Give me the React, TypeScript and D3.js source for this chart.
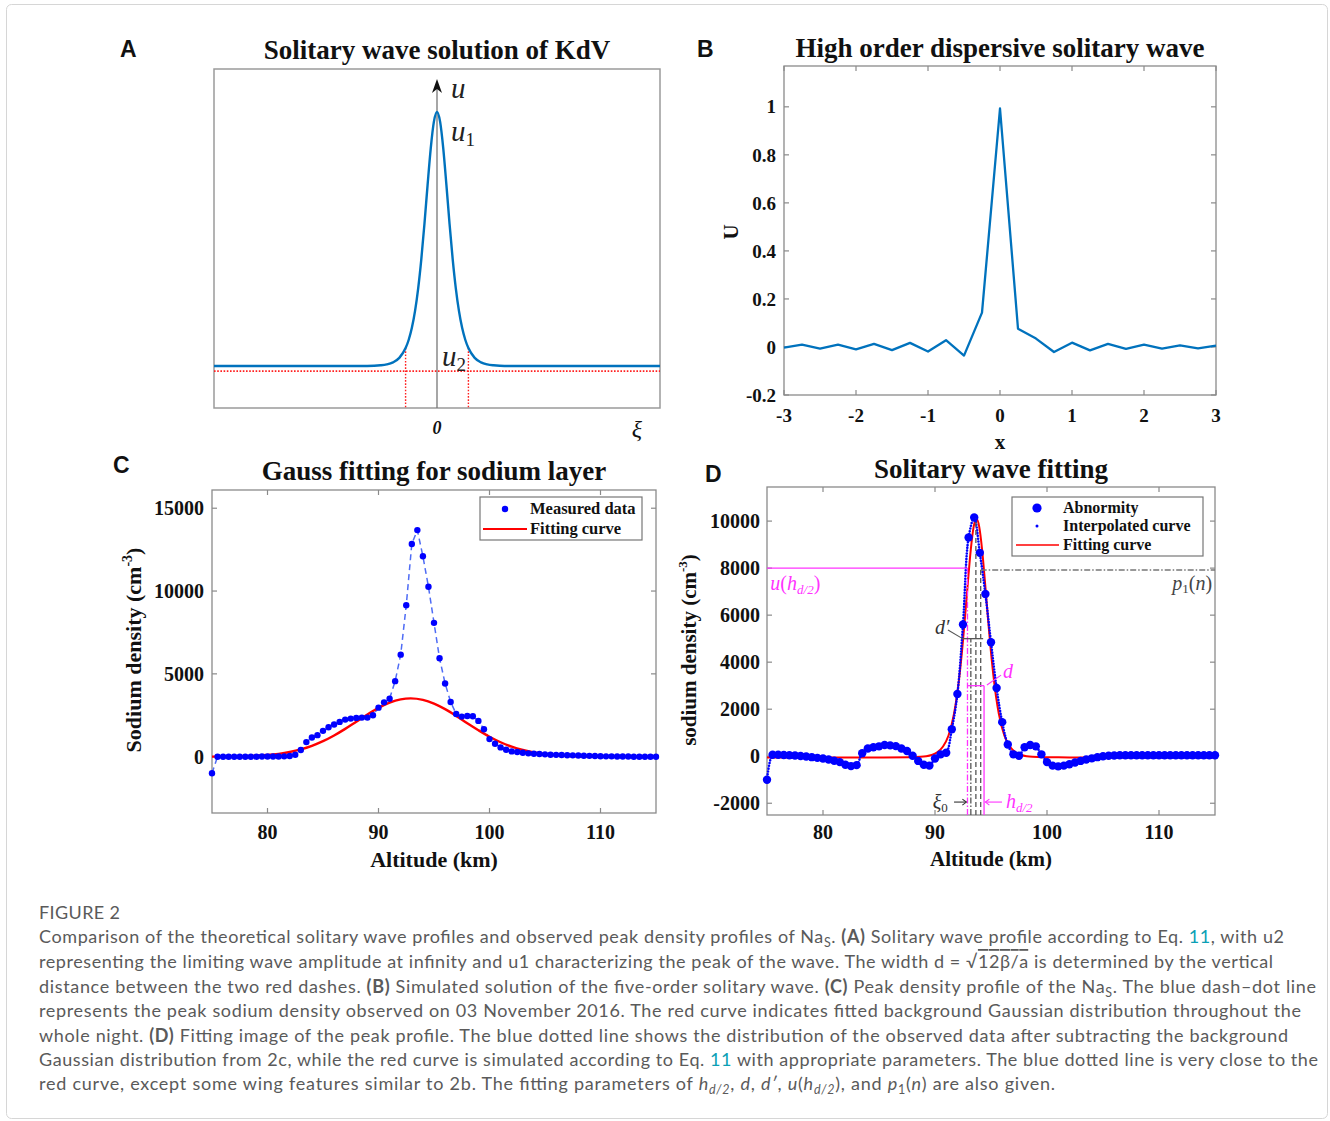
import React from "react";
import * as d3 from "d3";

// ---------- Panel A: KdV solitary wave ----------
const kdvXi = [-7.1, -3, -2.5, -2, -1.8, -1.6, -1.4, -1.2, -1, -0.9, -0.8, -0.7, -0.6, -0.5, -0.4, -0.3, -0.2, -0.1, 0, 0.1, 0.2, 0.3, 0.4, 0.5, 0.6, 0.7, 0.8, 0.9, 1, 1.2, 1.4, 1.6, 1.8, 2, 2.5, 3, 7.1];
const kdvU = [0, 0, 0.0002, 0.0013, 0.003, 0.0066, 0.0147, 0.0324, 0.0707, 0.1036, 0.1505, 0.216, 0.305, 0.42, 0.559, 0.712, 0.856, 0.961, 1, 0.961, 0.856, 0.712, 0.559, 0.42, 0.305, 0.216, 0.1505, 0.1036, 0.0707, 0.0324, 0.0147, 0.0066, 0.003, 0.0013, 0.0002, 0, 0];
const kdvU2Level = -0.02;
const kdvWidthMarks = [-1, 1];

// ---------- Panel B: high order dispersive solitary wave ----------
const bX = [-3, -2.75, -2.5, -2.25, -2, -1.75, -1.5, -1.25, -1, -0.75, -0.5, -0.25, 0, 0.25, 0.5, 0.75, 1, 1.25, 1.5, 1.75, 2, 2.25, 2.5, 2.75, 3];
const bU = [-0.003, 0.01, -0.007, 0.01, -0.01, 0.013, -0.013, 0.017, -0.019, 0.028, -0.036, 0.143, 0.993, 0.076, 0.035, -0.021, 0.018, -0.014, 0.013, -0.008, 0.01, -0.007, 0.007, -0.006, 0.006];
const bXTicks = [-3, -2, -1, 0, 1, 2, 3];
const bYTicks = [-0.2, 0, 0.2, 0.4, 0.6, 0.8, 1];
const bYTickLabels = ["-0.2", "0", "0.2", "0.4", "0.6", "0.8", "1"];

// ---------- Panels C & D: altitude grid (km) ----------
const altGrid = [
  75, 75.5, 76, 76.5, 77, 77.5, 78, 78.5, 79, 79.5, 80, 80.5, 81, 81.5, 82, 82.5, 83, 83.5, 84, 84.5,
  85, 85.5, 86, 86.5, 87, 87.5, 88, 88.5, 89, 89.5, 90, 90.5, 91, 91.5, 92, 92.5, 93, 93.5, 94, 94.5,
  95, 95.5, 96, 96.5, 97, 97.5, 98, 98.5, 99, 99.5, 100, 100.5, 101, 101.5, 102, 102.5, 103, 103.5, 104, 104.5,
  105, 105.5, 106, 106.5, 107, 107.5, 108, 108.5, 109, 109.5, 110, 110.5, 111, 111.5, 112, 112.5, 113, 113.5, 114, 114.5, 115,
];
// Panel C measured sodium density
const cMeasured = [
  -1000, 0, 0, 0, 0, 0, 0, 0, 0, 10, 10, 10, 10, 20, 40, 120, 400, 880, 1160, 1300,
  1560, 1780, 1940, 2100, 2240, 2300, 2340, 2360, 2360, 2500, 2960, 3280, 3500, 4560, 6160, 9140, 12840, 13680, 12100, 10260,
  8080, 5940, 4420, 3300, 2580, 2420, 2460, 2440, 2160, 1660, 1060, 780, 560, 420, 320, 280, 240, 200, 180, 160,
  140, 120, 110, 100, 90, 80, 70, 60, 50, 40, 30, 20, 20, 10, 10, 10, 0, 0, 0, 0, 0,
];
// Panel C Gaussian background fit
const cFitAlt = [75, 76, 77, 78, 79, 80, 81, 82, 83, 84, 85, 86, 87, 88, 89, 90, 91, 92, 92.9, 94, 95, 96, 97, 98, 99, 100, 101, 102, 103, 104, 105, 106, 107, 108, 110, 112, 115];
const cFitVal = [4, 8, 16, 31, 58, 102, 173, 282, 438, 654, 934, 1280, 1679, 2113, 2548, 2943, 3260, 3460, 3520, 3431, 3205, 2870, 2462, 2013, 1596, 1206, 872, 602, 403, 256, 157, 92, 51, 27, 7, 0, 0];
const cXTicks = [80, 90, 100, 110];
const cYTicks = [0, 5000, 10000, 15000];

// Panel D abnormity (measured minus background)
const dAbnorm = [
  -1000, 60, 60, 50, 40, 30, 10, -10, -40, -70, -100, -140, -190, -250, -360, -420, -380, 130, 330, 380,
  420, 480, 460, 430, 330, 220, 20, -200, -360, -400, -100, 80, 150, 1150, 2650, 5600, 9300, 10150, 8650, 6900,
  4850, 2900, 1450, 500, 80, 20, 380, 480, 420, 80, -250, -400, -430, -400, -340, -270, -200, -140, -90, -40,
  0, 20, 30, 40, 40, 40, 40, 40, 40, 40, 40, 40, 40, 40, 40, 40, 40, 40, 40, 40, 40,
];
// Panel D solitary-wave fit
const dFitAlt = [75, 85, 87.7, 88.7, 89.2, 89.7, 90.2, 90.7, 91.2, 91.7, 91.95, 92.2, 92.45, 92.7, 92.95, 93.2, 93.45, 93.7, 93.95, 94.2, 94.45, 94.7, 94.95, 95.2, 95.45, 95.7, 96.2, 96.7, 97.2, 97.7, 98.2, 98.7, 99.7, 102, 115];
const dFitVal = [-50, -50, -45, -27, -1, 53, 166, 402, 870, 1807, 2540, 3490, 4665, 6030, 7480, 8810, 9755, 10100, 9755, 8810, 7480, 6030, 4665, 3490, 2540, 1807, 870, 402, 166, 53, -1, -27, -45, -50, -50];
const dXTicks = [80, 90, 100, 110];
const dYTicks = [-2000, 0, 2000, 4000, 6000, 8000, 10000];

// Panel D annotation geometry (data units)
const dVLines = [
  { x: 92.9, top: 8000, color: "#ff33ff", dash: "6 2 1.5 2" },
  { x: 93.2, top: 5000, color: "#555555", dash: "6 2 1.5 2" },
  { x: 93.65, top: 10100, color: "#555555", dash: "5 3" },
  { x: 94.08, top: 7920, color: "#555555", dash: "5 3" },
  { x: 94.38, top: 3000, color: "#ff33ff", dash: "" },
];
const dHLines = [
  { x0: 75, x1: 92.9, y: 8000, color: "#ff33ff", dash: "" },
  { x0: 94.08, x1: 115, y: 7920, color: "#777777", dash: "6 2 1.5 2" },
  { x0: 92.35, x1: 94.3, y: 5000, color: "#555555", dash: "" },
  { x0: 92.9, x1: 94.38, y: 3000, color: "#ff33ff", dash: "" },
];

const serif = "'Times New Roman', 'Liberation Serif', Times, serif";
const sans = "Arial, 'Liberation Sans', Helvetica, sans-serif";
const capFont = "Lato, 'Open Sans', 'Noto Sans', sans-serif";
const AX = "#8a8a8a";
const MBLUE = "#0072BD";
const MAG = "#ff33ff";

type Sc = d3.ScaleLinear<number, number>;

function MatAxes(props: {
  xs: Sc; ys: Sc; xTicks: number[]; yTicks: number[]; yLabels?: string[];
  fs: number; xLabY: number; yLabX: number;
}) {
  const { xs, ys, xTicks, yTicks, yLabels, fs, xLabY, yLabX } = props;
  const [x0, x1] = xs.range();
  const [y0, y1] = ys.range(); // y0 bottom, y1 top
  const tl = 5;
  return (
    <g>
      <rect x={x0} y={y1} width={x1 - x0} height={y0 - y1} fill="none" stroke={AX} strokeWidth={1.3} />
      {xTicks.map((t) => (
        <g key={"x" + t}>
          <line x1={xs(t)} x2={xs(t)} y1={y0} y2={y0 - tl} stroke={AX} strokeWidth={1.2} />
          <line x1={xs(t)} x2={xs(t)} y1={y1} y2={y1 + tl} stroke={AX} strokeWidth={1.2} />
          <text x={xs(t)} y={xLabY} textAnchor="middle" dy="0.35em" fontFamily={serif} fontWeight="bold" fontSize={fs} fill="#111">
            {String(t)}
          </text>
        </g>
      ))}
      {yTicks.map((t, i) => (
        <g key={"y" + t}>
          <line x1={x0} x2={x0 + tl} y1={ys(t)} y2={ys(t)} stroke={AX} strokeWidth={1.2} />
          <line x1={x1} x2={x1 - tl} y1={ys(t)} y2={ys(t)} stroke={AX} strokeWidth={1.2} />
          <text x={yLabX} y={ys(t)} textAnchor="end" dy="0.35em" fontFamily={serif} fontWeight="bold" fontSize={fs} fill="#111">
            {yLabels ? yLabels[i] : String(t)}
          </text>
        </g>
      ))}
    </g>
  );
}

type Seg = { t: string; b?: boolean; i?: boolean; sub?: boolean; teal?: boolean; over?: boolean };

function CapLine({ y, segs, len }: { y: number; segs: Seg[]; len: number }) {
  let prevSub = false;
  return (
    <text x={39} y={y} fontFamily={capFont} fontSize={18} fill="#5a5a5a" textLength={len} lengthAdjust="spacing">
      {segs.map((s, k) => {
        let dy: number | undefined = undefined;
        if (s.sub && !prevSub) dy = 4;
        if (!s.sub && prevSub) dy = -4;
        prevSub = !!s.sub;
        return (
          <tspan
            key={k}
            dy={dy}
            fontWeight={s.b ? "bold" : undefined}
            fontStyle={s.i ? "italic" : undefined}
            fontSize={s.sub ? 12.5 : undefined}
            fill={s.teal ? "#0b9fb5" : undefined}
            style={s.over ? { textDecoration: "overline" } : undefined}
          >
            {s.t}
          </tspan>
        );
      })}
    </text>
  );
}

export default function App() {
  // Panel A
  const xA = d3.scaleLinear().domain([-7.1, 7.1]).range([214, 660]);
  const yA = d3.scaleLinear().domain([-0.165, 1.169]).range([408, 69]);
  const lineA = d3.line<number>().x((_, i) => xA(kdvXi[i])).y((d) => yA(d)).curve(d3.curveMonotoneX);
  const uAtMark = 0.0707;

  // Panel B
  const xB = d3.scaleLinear().domain([-3, 3]).range([784, 1216]);
  const yB = d3.scaleLinear().domain([-0.2, 1.17]).range([395, 66]);
  const lineB = d3.line<number>().x((_, i) => xB(bX[i])).y((d) => yB(d));

  // Panel C
  const xC = d3.scaleLinear().domain([75, 115]).range([212, 656]);
  const yC = d3.scaleLinear().domain([-3400, 16100]).range([813, 490]);
  const lineCm = d3.line<number>().x((_, i) => xC(altGrid[i])).y((d) => yC(d));
  const lineCf = d3.line<number>().x((_, i) => xC(cFitAlt[i])).y((d) => yC(d)).curve(d3.curveMonotoneX);

  // Panel D
  const xD = d3.scaleLinear().domain([75, 115]).range([767, 1215]);
  const yD = d3.scaleLinear().domain([-2500, 11450]).range([815, 487]);
  const lineDi = d3.line<number>().x((_, i) => xD(altGrid[i])).y((d) => yD(d)).curve(d3.curveCatmullRom.alpha(0.5));
  const lineDf = d3.line<number>().x((_, i) => xD(dFitAlt[i])).y((d) => yD(d)).curve(d3.curveMonotoneX);

  const titleFs = 27;
  const annFs = 20;

  return (
    <svg width={1330} height={1121} style={{ position: "absolute", left: 0, top: 0, background: "#fff" }}>
      <rect x={6.5} y={4.5} width={1321} height={1114} rx={5} fill="#fff" stroke="#d6d6d6" strokeWidth={1} />

      {/* ============ Panel A ============ */}
      <text x={120} y={57} fontFamily={sans} fontWeight="bold" fontSize={23} fill="#111">A</text>
      <text x={437} y={59} textAnchor="middle" fontFamily={serif} fontWeight="bold" fontSize={titleFs} fill="#111">Solitary wave solution of KdV</text>
      <rect x={214} y={69} width={446} height={339} fill="none" stroke="#9a9a9a" strokeWidth={1.5} />
      <line x1={xA(0)} x2={xA(0)} y1={408} y2={86} stroke="#777" strokeWidth={1.3} />
      <polygon points={`${xA(0)},79 ${xA(0) - 5},93 ${xA(0)},89 ${xA(0) + 5},93`} fill="#111" />
      <line x1={214} x2={660} y1={yA(kdvU2Level)} y2={yA(kdvU2Level)} stroke="#ff2020" strokeWidth={1.6} strokeDasharray="1.6 1.6" />
      {kdvWidthMarks.map((m) => (
        <line key={m} x1={xA(m)} x2={xA(m)} y1={yA(uAtMark)} y2={408} stroke="#ff2020" strokeWidth={1.4} strokeDasharray="1.6 1.6" />
      ))}
      <path d={lineA(kdvU) || ""} fill="none" stroke={MBLUE} strokeWidth={2.4} />
      <text x={451} y={98} fontFamily={serif} fontStyle="italic" fontSize={29} fill="#222">u</text>
      <text x={451} y={141} fontFamily={serif} fontStyle="italic" fontSize={29} fill="#222">
        u<tspan fontStyle="normal" fontSize={19} dy={5}>1</tspan>
      </text>
      <text x={442} y={366} fontFamily={serif} fontStyle="italic" fontSize={29} fill="#222">
        u<tspan fontStyle="normal" fontSize={19} dy={5}>2</tspan>
      </text>
      <text x={xA(0)} y={434} textAnchor="middle" fontFamily={serif} fontStyle="italic" fontWeight="bold" fontSize={18} fill="#111">0</text>
      <text x={637} y={437} textAnchor="middle" fontFamily={serif} fontStyle="italic" fontSize={24} fill="#111">ξ</text>

      {/* ============ Panel B ============ */}
      <text x={697} y={57} fontFamily={sans} fontWeight="bold" fontSize={23} fill="#111">B</text>
      <text x={1000} y={57} textAnchor="middle" fontFamily={serif} fontWeight="bold" fontSize={titleFs} fill="#111">High order dispersive solitary wave</text>
      <MatAxes xs={xB} ys={yB} xTicks={bXTicks} yTicks={bYTicks} yLabels={bYTickLabels} fs={19} xLabY={415} yLabX={776} />
      <path d={lineB(bU) || ""} fill="none" stroke={MBLUE} strokeWidth={2.3} strokeLinejoin="round" />
      <text transform="translate(738,232) rotate(-90)" textAnchor="middle" fontFamily={serif} fontWeight="bold" fontSize={21} fill="#111">U</text>
      <text x={1000} y={449} textAnchor="middle" fontFamily={serif} fontWeight="bold" fontSize={21} fill="#111">x</text>

      {/* ============ Panel C ============ */}
      <text x={113} y={473} fontFamily={sans} fontWeight="bold" fontSize={23} fill="#111">C</text>
      <text x={434} y={480} textAnchor="middle" fontFamily={serif} fontWeight="bold" fontSize={titleFs} fill="#111">Gauss fitting for sodium layer</text>
      <MatAxes xs={xC} ys={yC} xTicks={cXTicks} yTicks={cYTicks} fs={20} xLabY={832} yLabX={204} />
      <path d={lineCm(cMeasured) || ""} fill="none" stroke="#4f6cf5" strokeWidth={1.5} strokeDasharray="6 4" />
      <path d={lineCf(cFitVal) || ""} fill="none" stroke="#ff0000" strokeWidth={2.4} />
      {cMeasured.map((v, i) => (
        <circle key={i} cx={xC(altGrid[i])} cy={yC(v)} r={3.2} fill="#0000ff" />
      ))}
      <text transform="translate(141,650) rotate(-90)" textAnchor="middle" fontFamily={serif} fontWeight="bold" fontSize={22} fill="#111">
        Sodium density (cm<tspan fontSize={14} dy={-9}>-3</tspan><tspan dy={9}>)</tspan>
      </text>
      <text x={434} y={867} textAnchor="middle" fontFamily={serif} fontWeight="bold" fontSize={22} fill="#111">Altitude (km)</text>
      <g>
        <rect x={480} y={497} width={162} height={43} fill="#fff" stroke="#777" strokeWidth={1.2} />
        <circle cx={505} cy={509} r={3.2} fill="#0000ff" />
        <text x={530} y={514} fontFamily={serif} fontWeight="bold" fontSize={16.5} fill="#111">Measured data</text>
        <line x1={483} x2={527} y1={529} y2={529} stroke="#ff0000" strokeWidth={2} />
        <text x={530} y={534} fontFamily={serif} fontWeight="bold" fontSize={16.5} fill="#111">Fitting curve</text>
      </g>

      {/* ============ Panel D ============ */}
      <text x={705} y={482} fontFamily={sans} fontWeight="bold" fontSize={23} fill="#111">D</text>
      <text x={991} y={478} textAnchor="middle" fontFamily={serif} fontWeight="bold" fontSize={titleFs} fill="#111">Solitary wave fitting</text>
      <MatAxes xs={xD} ys={yD} xTicks={dXTicks} yTicks={dYTicks} fs={20} xLabY={832} yLabX={760} />
      <path d={lineDf(dFitVal) || ""} fill="none" stroke="#ff0000" strokeWidth={2} />
      {dAbnorm.map((v, i) => (
        <circle key={i} cx={xD(altGrid[i])} cy={yD(v)} r={4.2} fill="#0000ff" />
      ))}
      <path d={lineDi(dAbnorm) || ""} fill="none" stroke="#0000ff" strokeWidth={2.6} strokeDasharray="0 2.8" strokeLinecap="round" />
      {dVLines.map((l, k) => (
        <line key={"v" + k} x1={xD(l.x)} x2={xD(l.x)} y1={yD(-2500)} y2={yD(l.top)} stroke={l.color} strokeWidth={1.3} strokeDasharray={l.dash || undefined} />
      ))}
      {dHLines.map((l, k) => (
        <line key={"h" + k} x1={xD(l.x0)} x2={xD(l.x1)} y1={yD(l.y)} y2={yD(l.y)} stroke={l.color} strokeWidth={1.3} strokeDasharray={l.dash || undefined} />
      ))}
      {/* labels */}
      <text x={xD(75.3)} y={yD(7050)} fontFamily={serif} fontSize={annFs} fill={MAG}>
        <tspan fontStyle="italic">u</tspan>(<tspan fontStyle="italic">h</tspan>
        <tspan fontStyle="italic" fontSize={13} dy={4}>d/2</tspan>
        <tspan dy={-4}>)</tspan>
      </text>
      <text x={xD(114.75)} y={yD(7050)} textAnchor="end" fontFamily={serif} fontSize={annFs} fill="#444">
        <tspan fontStyle="italic">p</tspan>
        <tspan fontSize={13} dy={3}>1</tspan>
        <tspan dy={-3}>(</tspan><tspan fontStyle="italic">n</tspan>)
      </text>
      <text x={xD(90.0)} y={yD(5200)} fontFamily={serif} fontStyle="italic" fontSize={annFs} fill="#333">d′</text>
      <line x1={xD(91.16)} y1={yD(5370)} x2={xD(92.5)} y2={yD(4990)} stroke="#555" strokeWidth={1.1} />
      <text x={xD(96.07)} y={yD(3330)} fontFamily={serif} fontStyle="italic" fontSize={annFs} fill={MAG}>d</text>
      <line x1={xD(95.9)} y1={yD(3450)} x2={xD(94.64)} y2={yD(3030)} stroke={MAG} strokeWidth={1.1} />
      <text x={xD(89.8)} y={yD(-2250)} fontFamily={serif} fontStyle="italic" fontSize={annFs} fill="#333">
        ξ<tspan fontStyle="normal" fontSize={13} dy={3}>0</tspan>
      </text>
      <line x1={xD(91.7)} y1={yD(-1950)} x2={xD(92.8)} y2={yD(-1950)} stroke="#333" strokeWidth={1.1} />
      <polyline points={`${xD(92.8) - 4},${yD(-1950) - 3} ${xD(92.8)},${yD(-1950)} ${xD(92.8) - 4},${yD(-1950) + 3}`} fill="none" stroke="#333" strokeWidth={1.1} />
      <text x={xD(96.34)} y={yD(-2200)} fontFamily={serif} fontSize={annFs} fill={MAG}>
        <tspan fontStyle="italic">h</tspan>
        <tspan fontStyle="italic" fontSize={13} dy={4}>d/2</tspan>
      </text>
      <line x1={xD(95.98)} y1={yD(-1950)} x2={xD(94.5)} y2={yD(-1950)} stroke={MAG} strokeWidth={1.1} />
      <polyline points={`${xD(94.5) + 4},${yD(-1950) - 3} ${xD(94.5)},${yD(-1950)} ${xD(94.5) + 4},${yD(-1950) + 3}`} fill="none" stroke={MAG} strokeWidth={1.1} />

      <text transform="translate(696,650) rotate(-90)" textAnchor="middle" fontFamily={serif} fontWeight="bold" fontSize={21} fill="#111">
        sodium density (cm<tspan fontSize={13} dy={-9}>-3</tspan><tspan dy={9}>)</tspan>
      </text>
      <text x={991} y={866} textAnchor="middle" fontFamily={serif} fontWeight="bold" fontSize={21} fill="#111">Altitude (km)</text>
      <g>
        <rect x={1012} y={497} width={191} height={59} fill="#fff" stroke="#777" strokeWidth={1.2} />
        <circle cx={1037} cy={508} r={4.6} fill="#0000ff" />
        <text x={1063} y={513} fontFamily={serif} fontWeight="bold" fontSize={16} fill="#111">Abnormity</text>
        <circle cx={1037} cy={526} r={1.5} fill="#0000ff" />
        <text x={1063} y={531} fontFamily={serif} fontWeight="bold" fontSize={16} fill="#111">Interpolated curve</text>
        <line x1={1016} x2={1059} y1={545} y2={545} stroke="#ff0000" strokeWidth={1.6} />
        <text x={1063} y={550} fontFamily={serif} fontWeight="bold" fontSize={16} fill="#111">Fitting curve</text>
      </g>

      {/* ============ Caption ============ */}
      <text x={39} y={919} fontFamily={capFont} fontSize={18} fill="#5a5a5a" textLength={81} lengthAdjust="spacing">FIGURE 2</text>
      <CapLine y={943} len={1245} segs={[
        { t: "Comparison of the theoretical solitary wave profiles and observed peak density profiles of Na" }, { t: "S", sub: true },
        { t: ". " }, { t: "(A)", b: true }, { t: " Solitary wave profile according to Eq. " }, { t: "11", teal: true }, { t: ", with u2" },
      ]} />
      <CapLine y={968} len={1234} segs={[
        { t: "representing the limiting wave amplitude at infinity and u1 characterizing the peak of the wave. The width d = √" },
        { t: "12β/a", over: true }, { t: " is determined by the vertical" },
      ]} />
      <CapLine y={993} len={1277} segs={[
        { t: "distance between the two red dashes. " }, { t: "(B)", b: true }, { t: " Simulated solution of the five-order solitary wave. " },
        { t: "(C)", b: true }, { t: " Peak density profile of the Na" }, { t: "S", sub: true }, { t: ". The blue dash–dot line" },
      ]} />
      <CapLine y={1017} len={1262} segs={[
        { t: "represents the peak sodium density observed on 03 November 2016. The red curve indicates fitted background Gaussian distribution throughout the" },
      ]} />
      <CapLine y={1042} len={1249} segs={[
        { t: "whole night. " }, { t: "(D)", b: true }, { t: " Fitting image of the peak profile. The blue dotted line shows the distribution of the observed data after subtracting the background" },
      ]} />
      <CapLine y={1066} len={1279} segs={[
        { t: "Gaussian distribution from 2c, while the red curve is simulated according to Eq. " }, { t: "11", teal: true },
        { t: " with appropriate parameters. The blue dotted line is very close to the" },
      ]} />
      <CapLine y={1090} len={1016} segs={[
        { t: "red curve, except some wing features similar to 2b. The fitting parameters of " }, { t: "h", i: true }, { t: "d/2", i: true, sub: true },
        { t: ", " }, { t: "d", i: true }, { t: ", " }, { t: "d′", i: true }, { t: ", " }, { t: "u", i: true }, { t: "(" }, { t: "h", i: true },
        { t: "d/2", i: true, sub: true }, { t: "), and " }, { t: "p", i: true }, { t: "1", sub: true }, { t: "(" }, { t: "n", i: true }, { t: ") are also given." },
      ]} />
    </svg>
  );
}
